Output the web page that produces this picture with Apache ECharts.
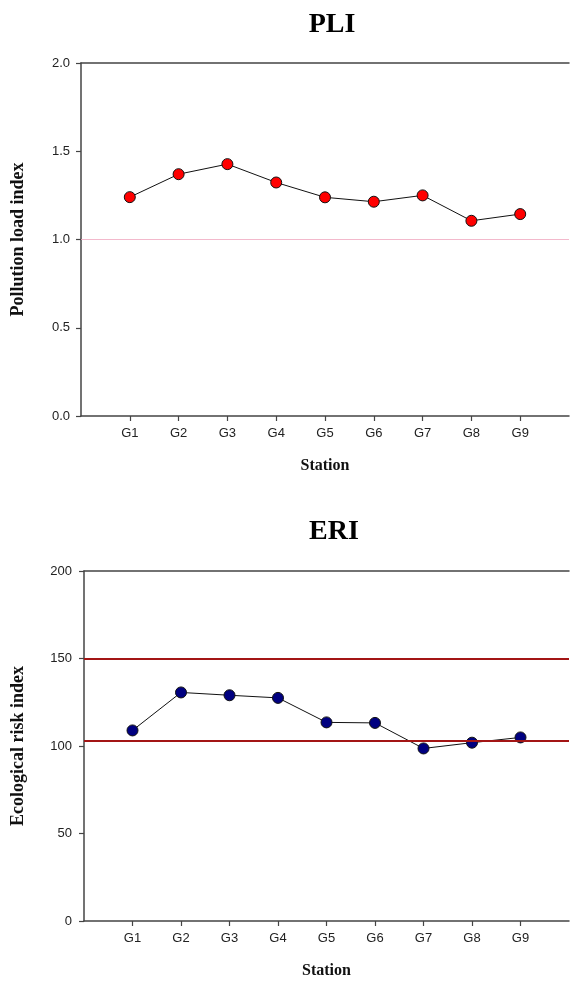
<!DOCTYPE html>
<html>
<head>
<meta charset="utf-8">
<script src="https://cdn.jsdelivr.net/npm/echarts@6/dist/echarts.min.js"></script>
<style>
html,body{margin:0;padding:0;background:#fff;}
#main{width:572px;height:982px;}
</style>
</head>
<body>
<div id="main"></div>
<script>
const stations = ['G1','G2','G3','G4','G5','G6','G7','G8','G9'];
const pliValues = [1.24, 1.37, 1.427, 1.323, 1.239, 1.214, 1.25, 1.106, 1.144];
const eriValues = [108.9, 130.6, 129.0, 127.5, 113.5, 113.2, 98.6, 101.9, 104.9];
const pliRefLines = [1.0];
const eriRefLines = [150, 103];
const pliTicks = [0, 0.5, 1.0, 1.5, 2.0];
const eriTicks = [0, 50, 100, 150, 200];

const axisCats = [''].concat(stations).concat(['']);
const axisColor = '#444';
const serif = '"Liberation Serif", "Times New Roman", serif';
const sans = '"Liberation Sans", Arial, sans-serif';

function xAxisCfg(gridIndex, gap) {
  return {
    type: 'category', gridIndex: gridIndex, data: axisCats, boundaryGap: false,
    axisLine: { lineStyle: { color: axisColor, width: 1.5 } },
    axisTick: { length: 5, lineStyle: { color: axisColor, width: 1.2 },
      interval: function (i) { return i > 0 && i < axisCats.length - 1; } },
    axisLabel: { interval: 0, margin: 11, color: '#222', fontSize: 13, fontFamily: sans },
    splitLine: { show: false },
    name: 'Station', nameLocation: 'middle', nameGap: gap,
    nameTextStyle: { fontFamily: serif, fontWeight: 'bold', fontSize: 16, color: '#111' }
  };
}
function topAxisCfg(gridIndex) {
  return {
    type: 'category', gridIndex: gridIndex, data: axisCats, boundaryGap: false, position: 'top',
    axisLine: { lineStyle: { color: axisColor, width: 1.5 } },
    axisTick: { show: false }, axisLabel: { show: false }, splitLine: { show: false }
  };
}
function yAxisCfg(gridIndex, ticks, name, gap, margin, digits) {
  return {
    type: 'value', gridIndex: gridIndex, min: ticks[0], max: ticks[ticks.length - 1],
    interval: ticks[1] - ticks[0],
    axisLine: { show: true, lineStyle: { color: axisColor, width: 1.5 } },
    axisTick: { show: true, length: 5, lineStyle: { color: axisColor, width: 1.2 } },
    axisLabel: { margin: margin, color: '#222', fontSize: 13, fontFamily: sans,
      formatter: function (v) { return digits ? v.toFixed(digits) : String(v); } },
    splitLine: { show: false },
    name: name, nameLocation: 'middle', nameRotate: 90, nameGap: gap,
    nameTextStyle: { fontFamily: serif, fontWeight: 'bold', fontSize: 18, color: '#111' }
  };
}

const chart = echarts.init(document.getElementById('main'), null, { renderer: 'canvas' });
chart.setOption({
  animation: false,
  backgroundColor: '#fff',
  title: [
    { text: 'PLI', left: 327, top: 6, textAlign: 'center',
      textStyle: { fontFamily: serif, fontWeight: 'bold', fontSize: 28, color: '#000' } },
    { text: 'ERI', left: 329, top: 513, textAlign: 'center',
      textStyle: { fontFamily: serif, fontWeight: 'bold', fontSize: 28, color: '#000' } }
  ],
  grid: [
    { left: 81, top: 63, width: 493, height: 353 },
    { left: 84, top: 571, width: 490, height: 350 }
  ],
  xAxis: [xAxisCfg(0, 42), xAxisCfg(1, 42), topAxisCfg(0), topAxisCfg(1)],
  yAxis: [
    yAxisCfg(0, pliTicks, 'Pollution load index', 54, 11, 1),
    yAxisCfg(1, eriTicks, 'Ecological risk index', 57, 12, 0)
  ],
  series: [
    {
      type: 'line', xAxisIndex: 0, yAxisIndex: 0,
      data: stations.map(function (s, i) { return [s, pliValues[i]]; }),
      symbol: 'circle', symbolSize: 11,
      lineStyle: { color: '#111', width: 1 },
      itemStyle: { color: '#ff0000', borderColor: '#111', borderWidth: 1 },
      markLine: { silent: true, symbol: 'none', label: { show: false },
        lineStyle: { color: '#f0a8bf', width: 1, type: 'solid', opacity: 0.8 },
        data: pliRefLines.map(function (v) { return { yAxis: v }; }) },
      z: 3
    },
    {
      type: 'line', xAxisIndex: 1, yAxisIndex: 1,
      data: stations.map(function (s, i) { return [s, eriValues[i]]; }),
      symbol: 'circle', symbolSize: 11,
      lineStyle: { color: '#111', width: 1 },
      itemStyle: { color: '#000080', borderColor: '#111', borderWidth: 1 },
      markLine: { silent: true, symbol: 'none', label: { show: false },
        lineStyle: { color: '#a31515', width: 2, type: 'solid' },
        data: eriRefLines.map(function (v) { return { yAxis: v }; }) },
      z: 3
    }
  ]
});
</script>
</body>
</html>
